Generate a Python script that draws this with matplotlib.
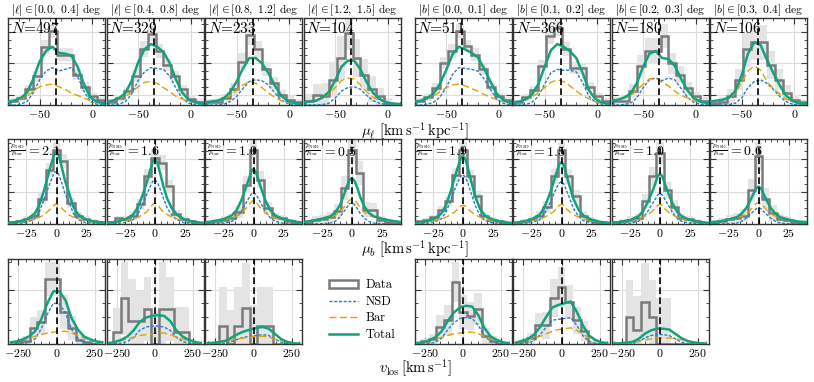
import matplotlib
matplotlib.use("Agg")
import numpy as np
import matplotlib.pyplot as plt
from matplotlib.ticker import MultipleLocator, FixedLocator
from matplotlib.lines import Line2D
from matplotlib.patches import Patch

plt.rcParams['font.family'] = 'cmr10'
plt.rcParams['mathtext.fontset'] = 'cm'
plt.rcParams['axes.formatter.use_mathtext'] = True

# ---------------- data (heights as fraction of each panel) ----------------
l_bins = ["[0.0,\\ 0.4]", "[0.4,\\ 0.8]", "[0.8,\\ 1.2]", "[1.2,\\ 1.5]"]
b_bins = ["[0.0,\\ 0.1]", "[0.1,\\ 0.2]", "[0.2,\\ 0.3]", "[0.3,\\ 0.4]"]
n_stars = [497, 329, 233, 104, 511, 366, 180, 106]
ratios = [2.1, 1.6, 1.0, 0.5, 1.9, 1.5, 1.0, 0.6]

# mu_l row
mul_edges = [-78.5, -71, -63.5, -56, -48.5, -41, -33.5, -26, -18.5, -11, -3.5, 4, 11.5]
mul_x = [-80, -74, -68, -62, -56, -50, -44, -38, -32, -26, -20, -14, -8, -2, 4, 12]
mul_line = -34.5
mul_hist = [
    [0.05, 0.08, 0.18, 0.33, 0.67, 0.85, 0.58, 0.58, 0.35, 0.21, 0.10, 0.06],
    [0.04, 0.08, 0.16, 0.33, 0.64, 0.82, 0.62, 0.46, 0.33, 0.18, 0.07, 0.04],
    [0.04, 0.04, 0.08, 0.18, 0.50, 0.81, 0.64, 0.41, 0.25, 0.12, 0.06, 0.04],
    [0.05, 0.12, 0.10, 0.29, 0.54, 0.83, 0.54, 0.35, 0.18, 0.10, 0.02, 0.00],
    [0.05, 0.09, 0.20, 0.48, 0.62, 0.85, 0.68, 0.58, 0.41, 0.21, 0.10, 0.06],
    [0.03, 0.09, 0.17, 0.45, 0.79, 0.88, 0.64, 0.43, 0.42, 0.21, 0.10, 0.05],
    [0.05, 0.05, 0.16, 0.45, 0.62, 0.62, 0.79, 0.48, 0.35, 0.19, 0.10, 0.05],
    [0.02, 0.04, 0.10, 0.29, 0.64, 0.72, 0.72, 0.46, 0.29, 0.14, 0.06, 0.03],
]
mul_err = [
    [0.03, 0.04, 0.05, 0.06, 0.08, 0.08, 0.07, 0.07, 0.06, 0.05, 0.04, 0.03],
    [0.03, 0.04, 0.05, 0.07, 0.09, 0.09, 0.08, 0.07, 0.06, 0.05, 0.04, 0.03],
    [0.03, 0.03, 0.05, 0.07, 0.10, 0.12, 0.10, 0.08, 0.07, 0.05, 0.04, 0.03],
    [0.08, 0.12, 0.15, 0.20, 0.25, 0.20, 0.22, 0.18, 0.15, 0.10, 0.06, 0.04],
    [0.03, 0.04, 0.05, 0.07, 0.08, 0.08, 0.07, 0.07, 0.06, 0.05, 0.04, 0.03],
    [0.03, 0.04, 0.05, 0.07, 0.09, 0.09, 0.08, 0.07, 0.06, 0.05, 0.04, 0.03],
    [0.04, 0.05, 0.08, 0.12, 0.15, 0.15, 0.14, 0.12, 0.10, 0.08, 0.05, 0.04],
    [0.03, 0.05, 0.08, 0.12, 0.20, 0.20, 0.20, 0.16, 0.12, 0.09, 0.05, 0.03],
]
mul_nsd = [
    [0, 0, 0.01, 0.04, 0.14, 0.29, 0.39, 0.43, 0.39, 0.41, 0.43, 0.33, 0.16, 0.04, 0.01, 0],
    [0, 0, 0.01, 0.04, 0.13, 0.28, 0.38, 0.43, 0.42, 0.41, 0.33, 0.19, 0.07, 0.02, 0.005, 0],
    [0, 0, 0, 0.01, 0.04, 0.10, 0.19, 0.27, 0.29, 0.28, 0.23, 0.14, 0.06, 0.02, 0.005, 0],
    [0, 0, 0, 0.005, 0.02, 0.08, 0.16, 0.20, 0.21, 0.18, 0.11, 0.05, 0.02, 0.005, 0, 0],
    [0, 0, 0.01, 0.03, 0.09, 0.20, 0.35, 0.43, 0.42, 0.41, 0.39, 0.30, 0.18, 0.07, 0.02, 0],
    [0, 0, 0.005, 0.03, 0.10, 0.24, 0.37, 0.41, 0.40, 0.40, 0.38, 0.26, 0.10, 0.03, 0.01, 0],
    [0, 0, 0.005, 0.02, 0.08, 0.20, 0.29, 0.31, 0.28, 0.31, 0.29, 0.19, 0.09, 0.03, 0.01, 0],
    [0, 0, 0, 0.005, 0.02, 0.08, 0.20, 0.27, 0.29, 0.25, 0.18, 0.10, 0.04, 0.01, 0, 0],
]
mul_bar = [
    [0.04, 0.05, 0.07, 0.10, 0.16, 0.21, 0.23, 0.24, 0.21, 0.18, 0.14, 0.11, 0.08, 0.05, 0.03, 0.015],
    [0.04, 0.05, 0.07, 0.10, 0.15, 0.21, 0.26, 0.27, 0.25, 0.20, 0.15, 0.10, 0.07, 0.04, 0.03, 0.015],
    [0.03, 0.04, 0.05, 0.07, 0.11, 0.17, 0.23, 0.27, 0.25, 0.20, 0.14, 0.09, 0.05, 0.03, 0.02, 0.01],
    [0.03, 0.04, 0.05, 0.08, 0.13, 0.20, 0.28, 0.31, 0.30, 0.23, 0.15, 0.09, 0.05, 0.03, 0.015, 0.01],
    [0.04, 0.05, 0.07, 0.10, 0.15, 0.20, 0.23, 0.24, 0.22, 0.19, 0.16, 0.12, 0.09, 0.06, 0.04, 0.02],
    [0.03, 0.04, 0.06, 0.09, 0.14, 0.20, 0.26, 0.29, 0.27, 0.22, 0.16, 0.11, 0.07, 0.04, 0.02, 0.01],
    [0.05, 0.06, 0.08, 0.11, 0.17, 0.24, 0.30, 0.31, 0.26, 0.22, 0.16, 0.11, 0.08, 0.05, 0.03, 0.02],
    [0.04, 0.05, 0.06, 0.08, 0.14, 0.26, 0.39, 0.45, 0.40, 0.27, 0.19, 0.13, 0.07, 0.04, 0.02, 0.01],
]

# mu_b row
mub_edges = [-39, -33, -27, -21, -15, -9, -3, 3, 9, 15, 21, 27, 33, 39]
mub_x = [-42, -32, -24, -18, -14, -10, -7, -4, -2, 0, 2, 4, 7, 10, 14, 18, 24, 32, 42]
mub_hist = [
    [0.02, 0.03, 0.06, 0.10, 0.30, 0.64, 0.87, 0.74, 0.25, 0.10, 0.06, 0.04, 0.02],
    [0.02, 0.07, 0.06, 0.10, 0.23, 0.56, 0.78, 0.72, 0.45, 0.12, 0.06, 0.03, 0.01],
    [0.02, 0.03, 0.05, 0.07, 0.14, 0.46, 0.87, 0.52, 0.19, 0.08, 0.07, 0.03, 0.01],
    [0.01, 0.05, 0.06, 0.08, 0.15, 0.42, 0.87, 0.60, 0.17, 0.17, 0.05, 0.02, 0.01],
    [0.03, 0.05, 0.08, 0.17, 0.27, 0.58, 0.87, 0.56, 0.33, 0.09, 0.05, 0.03, 0.01],
    [0.01, 0.03, 0.06, 0.10, 0.20, 0.56, 0.87, 0.56, 0.33, 0.10, 0.05, 0.02, 0.01],
    [0.02, 0.03, 0.05, 0.07, 0.27, 0.56, 0.83, 0.40, 0.20, 0.07, 0.06, 0.03, 0.01],
    [0.01, 0.03, 0.06, 0.07, 0.10, 0.40, 0.80, 0.30, 0.13, 0.06, 0.05, 0.02, 0.01],
]
mub_err = [
    [0.01, 0.02, 0.03, 0.04, 0.06, 0.08, 0.09, 0.08, 0.06, 0.04, 0.03, 0.02, 0.01],
    [0.02, 0.03, 0.03, 0.05, 0.07, 0.09, 0.10, 0.09, 0.07, 0.05, 0.03, 0.02, 0.01],
    [0.02, 0.03, 0.04, 0.05, 0.07, 0.10, 0.12, 0.10, 0.07, 0.05, 0.04, 0.03, 0.02],
    [0.02, 0.04, 0.05, 0.06, 0.09, 0.14, 0.16, 0.14, 0.09, 0.08, 0.05, 0.03, 0.02],
    [0.01, 0.02, 0.03, 0.04, 0.06, 0.08, 0.09, 0.08, 0.06, 0.04, 0.03, 0.02, 0.01],
    [0.02, 0.03, 0.03, 0.05, 0.07, 0.09, 0.10, 0.09, 0.07, 0.05, 0.03, 0.02, 0.01],
    [0.02, 0.03, 0.04, 0.05, 0.08, 0.11, 0.13, 0.10, 0.08, 0.05, 0.04, 0.03, 0.02],
    [0.02, 0.04, 0.05, 0.06, 0.08, 0.13, 0.16, 0.12, 0.09, 0.06, 0.05, 0.03, 0.02],
]
mub_nsd = [
    [0, 0.005, 0.02, 0.06, 0.15, 0.30, 0.42, 0.53, 0.60, 0.62, 0.58, 0.50, 0.36, 0.27, 0.12, 0.05, 0.015, 0.005, 0],
    [0, 0.005, 0.02, 0.05, 0.12, 0.24, 0.34, 0.44, 0.50, 0.52, 0.49, 0.42, 0.30, 0.19, 0.10, 0.05, 0.015, 0.005, 0],
    [0, 0.005, 0.01, 0.03, 0.07, 0.15, 0.23, 0.30, 0.35, 0.37, 0.35, 0.30, 0.22, 0.14, 0.07, 0.03, 0.01, 0.005, 0],
    [0, 0, 0.005, 0.01, 0.03, 0.08, 0.14, 0.20, 0.24, 0.25, 0.23, 0.19, 0.12, 0.07, 0.03, 0.01, 0.005, 0, 0],
    [0, 0.005, 0.02, 0.06, 0.14, 0.28, 0.40, 0.50, 0.56, 0.58, 0.55, 0.48, 0.35, 0.22, 0.10, 0.04, 0.015, 0.005, 0],
    [0, 0.005, 0.02, 0.05, 0.12, 0.23, 0.33, 0.43, 0.48, 0.50, 0.47, 0.40, 0.29, 0.18, 0.09, 0.04, 0.015, 0.005, 0],
    [0, 0.005, 0.01, 0.03, 0.07, 0.15, 0.22, 0.29, 0.34, 0.36, 0.34, 0.29, 0.22, 0.14, 0.07, 0.03, 0.01, 0.005, 0],
    [0, 0, 0.005, 0.01, 0.03, 0.07, 0.11, 0.15, 0.18, 0.19, 0.18, 0.15, 0.11, 0.07, 0.03, 0.01, 0.005, 0, 0],
]
mub_bar = [
    [0.01, 0.02, 0.04, 0.06, 0.08, 0.11, 0.15, 0.19, 0.22, 0.24, 0.22, 0.19, 0.15, 0.11, 0.08, 0.06, 0.04, 0.02, 0.01],
    [0.01, 0.02, 0.04, 0.06, 0.08, 0.11, 0.14, 0.19, 0.23, 0.25, 0.23, 0.19, 0.14, 0.11, 0.08, 0.06, 0.04, 0.02, 0.01],
    [0.015, 0.03, 0.05, 0.07, 0.09, 0.13, 0.17, 0.22, 0.26, 0.28, 0.26, 0.22, 0.17, 0.13, 0.09, 0.07, 0.05, 0.03, 0.01],
    [0.02, 0.04, 0.06, 0.08, 0.10, 0.14, 0.19, 0.25, 0.28, 0.29, 0.28, 0.25, 0.19, 0.14, 0.10, 0.08, 0.06, 0.04, 0.02],
    [0.01, 0.02, 0.04, 0.06, 0.08, 0.11, 0.14, 0.18, 0.21, 0.22, 0.21, 0.18, 0.14, 0.11, 0.08, 0.06, 0.04, 0.02, 0.01],
    [0.01, 0.02, 0.04, 0.06, 0.08, 0.11, 0.14, 0.18, 0.22, 0.23, 0.22, 0.18, 0.14, 0.11, 0.08, 0.06, 0.04, 0.02, 0.01],
    [0.01, 0.02, 0.04, 0.06, 0.08, 0.11, 0.14, 0.18, 0.22, 0.23, 0.22, 0.18, 0.14, 0.11, 0.08, 0.06, 0.04, 0.02, 0.01],
    [0.02, 0.03, 0.05, 0.07, 0.09, 0.12, 0.16, 0.21, 0.24, 0.25, 0.24, 0.21, 0.16, 0.12, 0.09, 0.07, 0.05, 0.03, 0.02],
]

# v_los row (panels: l bins 1-3, b bins 1-3)
vlos_cols = [0, 1, 2, 4, 5, 6]
vlos_edges = [-275, -225, -175, -125, -75, -25, 25, 75, 125, 175, 225, 275]
vlos_x = [-300, -260, -220, -180, -140, -100, -60, -20, 20, 60, 100, 140, 180, 220, 260, 300]
vlos_hist = [
    [0.02, 0.04, 0.19, 0.26, 0.76, 0.76, 0.38, 0.19, 0.05, 0.02, 0.00],
    [0.14, 0.54, 0.27, 0.27, 0.41, 0.00, 0.41, 0.41, 0.14, 0.14, 0.00],
    [0.00, 0.21, 0.00, 0.21, 0.42, 0.00, 0.21, 0.21, 0.00, 0.00, 0.00],
    [0.03, 0.06, 0.20, 0.28, 0.73, 0.38, 0.33, 0.41, 0.09, 0.04, 0.00],
    [0.03, 0.07, 0.22, 0.22, 0.54, 0.67, 0.50, 0.28, 0.15, 0.00, 0.00],
    [0.00, 0.32, 0.16, 0.49, 0.32, 0.00, 0.00, 0.00, 0.00, 0.00, 0.00],
]
vlos_err = [
    [0.03, 0.06, 0.13, 0.14, 0.20, 0.20, 0.20, 0.14, 0.08, 0.04, 0.02],
    [0.28, 0.43, 0.50, 0.35, 0.38, 0.40, 0.56, 0.38, 0.30, 0.30, 0.00],
    [0.00, 0.46, 0.40, 0.46, 0.53, 0.46, 0.46, 0.46, 0.00, 0.00, 0.00],
    [0.03, 0.06, 0.14, 0.18, 0.24, 0.20, 0.16, 0.19, 0.10, 0.05, 0.02],
    [0.03, 0.06, 0.14, 0.16, 0.22, 0.24, 0.20, 0.16, 0.12, 0.05, 0.02],
    [0.00, 0.43, 0.40, 0.46, 0.43, 0.54, 0.54, 0.00, 0.00, 0.00, 0.00],
]
vlos_nsd = [
    [0, 0, 0.005, 0.02, 0.06, 0.18, 0.35, 0.48, 0.47, 0.36, 0.17, 0.07, 0.02, 0.005, 0, 0],
    [0, 0.005, 0.01, 0.03, 0.08, 0.16, 0.20, 0.21, 0.21, 0.20, 0.16, 0.08, 0.03, 0.01, 0.005, 0],
    [0, 0, 0.005, 0.01, 0.03, 0.06, 0.08, 0.09, 0.10, 0.11, 0.10, 0.06, 0.02, 0.005, 0, 0],
    [0, 0, 0.005, 0.02, 0.07, 0.17, 0.25, 0.30, 0.31, 0.30, 0.22, 0.10, 0.03, 0.01, 0, 0],
    [0, 0.005, 0.01, 0.04, 0.11, 0.20, 0.28, 0.29, 0.30, 0.31, 0.22, 0.10, 0.03, 0.01, 0, 0],
    [0, 0, 0, 0.005, 0.03, 0.07, 0.10, 0.11, 0.11, 0.10, 0.06, 0.02, 0.005, 0, 0, 0],
]
vlos_bar = [
    [0.02, 0.03, 0.05, 0.07, 0.09, 0.11, 0.13, 0.14, 0.15, 0.15, 0.13, 0.10, 0.07, 0.05, 0.03, 0.02],
    [0.01, 0.02, 0.04, 0.06, 0.08, 0.10, 0.11, 0.12, 0.13, 0.13, 0.11, 0.08, 0.06, 0.04, 0.02, 0.01],
    [0.01, 0.015, 0.02, 0.03, 0.05, 0.06, 0.07, 0.08, 0.09, 0.09, 0.08, 0.06, 0.04, 0.02, 0.01, 0.005],
    [0.01, 0.02, 0.04, 0.06, 0.08, 0.10, 0.12, 0.13, 0.14, 0.14, 0.12, 0.09, 0.06, 0.04, 0.02, 0.01],
    [0.015, 0.03, 0.05, 0.07, 0.09, 0.12, 0.15, 0.17, 0.18, 0.19, 0.16, 0.12, 0.07, 0.04, 0.02, 0.01],
    [0.005, 0.01, 0.015, 0.02, 0.03, 0.05, 0.06, 0.07, 0.07, 0.07, 0.06, 0.05, 0.03, 0.02, 0.01, 0.005],
]

# ---------------- style ----------------
C_DATA = '#7a7a7a'
C_BAND = '#e4e4e4'
C_NSD = '#2a7fc1'
C_BAR = '#e69f00'
C_TOT = '#11a37f'
W, H = 814, 382
col_left = [8, 106.5, 205, 303.5, 414.5, 513, 611.5, 710]
col_w = 97
row_top = [18, 139, 259]
row_h = [87, 85, 85]

fig = plt.figure(figsize=(W / 100, H / 100), dpi=100)


def make_ax(row, col):
    top = row_top[row]
    return fig.add_axes([col_left[col] / W, (H - top - row_h[row]) / H,
                         col_w / W, row_h[row] / H])


def draw(ax, edges, hist, err, xs, nsd, bar, vline, xlim, xmaj, xmin, ymaj, ymin):
    hist = np.array(hist)
    err = np.array(err)
    lo = np.clip(hist - err, 0, None)
    ax.stairs(hist + err, edges, baseline=lo, fill=True, color=C_BAND, lw=0, zorder=1)
    ax.stairs(hist, edges, baseline=0, color=C_DATA, lw=1.8, zorder=2)
    total = np.array(nsd) + np.array(bar)
    ax.plot(xs, nsd, color=C_NSD, lw=1.0, ls=(0, (2.2, 1.2)), zorder=3)
    ax.plot(xs, bar, color=C_BAR, lw=1.0, ls=(0, (5, 2.5)), zorder=3)
    ax.plot(xs, total, color=C_TOT, lw=1.8, zorder=4)
    ax.axvline(vline, color='k', lw=1.2, ls=(0, (4, 2)), zorder=5)
    ax.set_xlim(*xlim)
    ax.set_ylim(0, 1)
    ax.xaxis.set_major_locator(MultipleLocator(xmaj))
    ax.xaxis.set_minor_locator(MultipleLocator(xmin))
    ax.yaxis.set_major_locator(FixedLocator(ymaj))
    ax.yaxis.set_minor_locator(FixedLocator(ymin))
    ax.grid(True, which='major', color='#dcdcdc', lw=0.8)
    ax.set_axisbelow(True)
    ax.tick_params(which='both', direction='in', top=True, right=True,
                   labelleft=False, colors='#333333', labelcolor='black')
    ax.tick_params(which='major', length=4, width=0.8, labelsize=8.5, pad=2)
    ax.tick_params(which='minor', length=2, width=0.6)
    for s in ax.spines.values():
        s.set_color('#333333')
        s.set_linewidth(1.0)


# row 1: mu_l
for i in range(8):
    ax = make_ax(0, i)
    draw(ax, mul_edges, mul_hist[i], mul_err[i], mul_x, mul_nsd[i], mul_bar[i],
         mul_line, (-80, 12), 50, 10, [0.12, 0.48, 0.84], np.arange(0.03, 1, 0.09))
    if i < 4:
        title = r'$|\ell| \in ' + l_bins[i] + r'$ deg'
    else:
        title = r'$|b| \in ' + b_bins[i - 4] + r'$ deg'
    ax.set_title(title, fontsize=8.3, pad=3)
    ax.text(0.03, 0.97, r'$N$=' + str(n_stars[i]), transform=ax.transAxes,
            ha='left', va='top', fontsize=11, zorder=6)

# row 2: mu_b
for i in range(8):
    ax = make_ax(1, i)
    draw(ax, mub_edges, mub_hist[i], mub_err[i], mub_x, mub_nsd[i], mub_bar[i],
         0, (-40, 40), 25, 5, [0.38, 0.76], np.arange(0.095, 1, 0.095))
    ax.text(0.02, 0.96, r'$\frac{p_{\rm NSD}}{p_{\rm bar}}$', transform=ax.transAxes,
            ha='left', va='top', fontsize=7, zorder=6)
    ax.text(0.19, 0.93, '$= ' + f'{ratios[i]:.1f}$', transform=ax.transAxes,
            ha='left', va='top', fontsize=10, zorder=6)

# row 3: v_los
for k, c in enumerate(vlos_cols):
    ax = make_ax(2, c)
    draw(ax, vlos_edges, vlos_hist[k], vlos_err[k], vlos_x, vlos_nsd[k], vlos_bar[k],
         0, (-318, 318), 250, 50, [0.64], np.arange(0.16, 1, 0.16))

fig.text(0.51, 1 - 131 / H, r'$\mu_\ell\ [\mathrm{km\,s^{-1}\,kpc^{-1}}]$',
         ha='center', va='center', fontsize=10.5)
fig.text(0.51, 1 - 249 / H, r'$\mu_b\ [\mathrm{km\,s^{-1}\,kpc^{-1}}]$',
         ha='center', va='center', fontsize=10.5)
fig.text(0.51, 1 - 368 / H, r'$v_\mathrm{los}\,[\mathrm{km\,s^{-1}}]$',
         ha='center', va='center', fontsize=10.5)

handles = [
    Patch(facecolor='white', edgecolor=C_DATA, lw=1.8, label='Data'),
    Line2D([], [], color=C_NSD, lw=1.0, ls=(0, (2.2, 1.2)), label='NSD'),
    Line2D([], [], color=C_BAR, lw=1.0, ls=(0, (5, 2.5)), label='Bar'),
    Line2D([], [], color=C_TOT, lw=1.8, label='Total'),
]
fig.legend(handles=handles, loc='upper left', bbox_to_anchor=(318 / W, 1 - 268 / H),
           frameon=False, fontsize=9, handlelength=2.3, labelspacing=0.35,
           handletextpad=0.6)

fig.savefig('out.png', dpi=100)
